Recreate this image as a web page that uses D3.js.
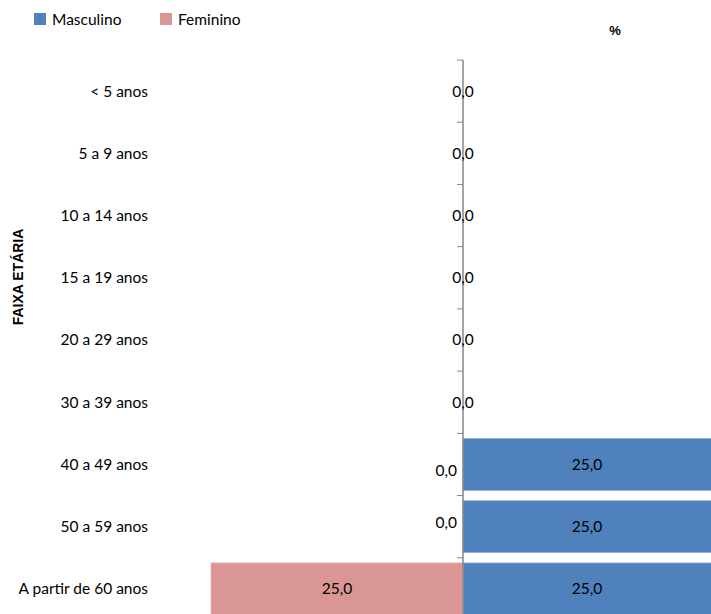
<!DOCTYPE html>
<html><head><meta charset="utf-8">
<script src="https://cdn.jsdelivr.net/npm/d3@7"></script>
<style>
html,body{margin:0;padding:0;background:#fff;overflow:hidden;}
svg{display:block;}
</style></head>
<body>
<script>
const categories = ["< 5 anos","5 a 9 anos","10 a 14 anos","15 a 19 anos","20 a 29 anos","30 a 39 anos","40 a 49 anos","50 a 59 anos","A partir de 60 anos"];
const masculino = [0,0,0,0,0,0,25,25,25];
const feminino  = [0,0,0,0,0,0,0,0,25];
const seriesNames = ["Masculino","Feminino"];
const colors = ["#4F81BD","#D99694"];

const W = 711, H = 614;
const font = "Lato, 'Open Sans', sans-serif";
const svg = d3.select("body").append("svg").attr("width", W).attr("height", H);

const x = d3.scaleLinear().domain([-25, 25]).range([211, 715]);
const y = d3.scaleBand().domain(categories).range([60, 620]).paddingInner(0.165).paddingOuter(0.0825);

const data = categories.map((c,i)=>({c, m: masculino[i], f: feminino[i]}));

// bars
svg.append("g").selectAll("rect.m").data(data).join("rect")
  .attr("x", x(0)).attr("y", d=>y(d.c)).attr("width", d=>x(d.m)-x(0)).attr("height", y.bandwidth())
  .attr("fill", colors[0]).attr("stroke", "#95B3D7").attr("stroke-width", 0.8);
svg.append("g").selectAll("rect.f").data(data).join("rect")
  .attr("x", d=>x(-d.f)).attr("y", d=>y(d.c)).attr("width", d=>x(0)-x(-d.f)).attr("height", y.bandwidth())
  .attr("fill", colors[1]).attr("stroke", "#E6B9B8").attr("stroke-width", 0.8);

// axis
const ag = svg.append("g").attr("transform", `translate(${x(0)},0)`);
ag.append("line").attr("x1",0).attr("x2",0).attr("y1",60).attr("y2",620).attr("stroke","#868686").attr("stroke-width",1.5);
const bounds = d3.range(categories.length+1).map(i => 60 + i*y.step());
ag.selectAll("line.tk").data(bounds).join("line").attr("class","tk")
  .attr("x1",-6).attr("x2",0).attr("y1",d=>d).attr("y2",d=>d).attr("stroke","#868686").attr("stroke-width",1);

// category labels
svg.append("g").selectAll("text").data(categories).join("text")
  .attr("x", 148).attr("y", d=>y(d)+y.bandwidth()/2).attr("dy","0.35em")
  .attr("text-anchor","end").attr("font-family",font).attr("font-size",15.5).attr("fill","#000").text(d=>d);

const fmt = v => d3.format(".1f")(v).replace(".", ",");

// value labels
data.forEach(d=>{
  const yc = y(d.c)+y.bandwidth()/2;
  if (d.m > 0) {
    svg.append("text").attr("x",(x(0)+Math.min(x(d.m),W))/2).attr("y",yc).attr("dy","0.35em")
      .attr("text-anchor","middle").attr("font-family",font).attr("font-size",15.5).text(fmt(d.m));
  } else {
    svg.append("text").attr("x",x(0)).attr("y",yc).attr("dy","0.35em")
      .attr("text-anchor","middle").attr("font-family",font).attr("font-size",15.5).text(fmt(d.m));
  }
  if (d.f > 0) {
    svg.append("text").attr("x",(x(0)+x(-d.f))/2).attr("y",yc).attr("dy","0.35em")
      .attr("text-anchor","middle").attr("font-family",font).attr("font-size",15.5).text(fmt(d.f));
  } else if (d.m > 0) {
    const off = d.c === "40 a 49 anos" ? 6 : -4;
    svg.append("text").attr("x",x(0)-6).attr("y",yc+off).attr("dy","0.35em")
      .attr("text-anchor","end").attr("font-family",font).attr("font-size",15.5).text(fmt(d.f));
  }
});

// titles
svg.append("text").attr("transform","translate(23,277) rotate(-90)").attr("text-anchor","middle")
  .attr("font-family","'Liberation Sans', Arial, sans-serif").attr("font-weight","bold").attr("font-size",14).text("FAIXA ETÁRIA");
svg.append("text").attr("x",615).attr("y",35).attr("text-anchor","middle")
  .attr("font-family","'Liberation Sans', Arial, sans-serif").attr("font-weight","bold").attr("font-size",13).text("%");

// legend
const lg = svg.append("g");
const lx = [34, 160];
seriesNames.forEach((n,i)=>{
  lg.append("rect").attr("x",lx[i]).attr("y",13).attr("width",12).attr("height",12).attr("fill",colors[i]);
  lg.append("text").attr("x",lx[i]+18).attr("y",24.5).attr("font-family",font).attr("font-size",15.5).text(n);
});
</script>
</body></html>
